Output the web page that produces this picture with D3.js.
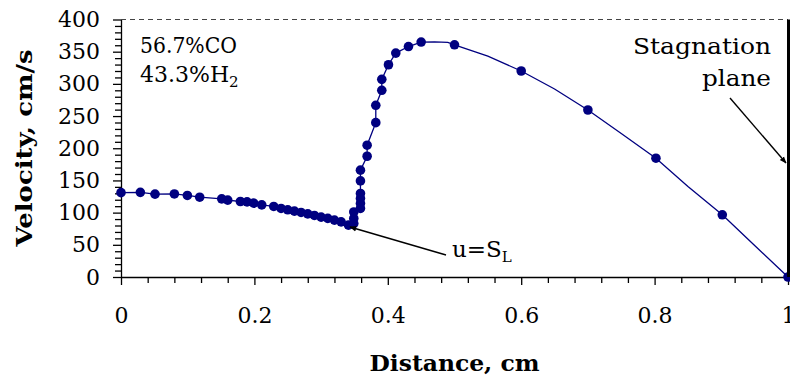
<!DOCTYPE html>
<html>
<head>
<meta charset="utf-8">
<script src="https://cdn.jsdelivr.net/npm/d3@7"></script>
<style>
  html, body { margin: 0; padding: 0; background: #fff; }
  svg { display: block; }
  text { font-family: "DejaVu Serif", "Liberation Serif", serif; fill: #000; }
</style>
</head>
<body>
<svg id="chart" width="790" height="379"></svg>
<script>
// Measured velocity profile (markers)
const distance = [0, 0.029, 0.051, 0.080, 0.0995, 0.118, 0.151, 0.160, 0.179, 0.189, 0.199, 0.211,
  0.229, 0.240, 0.250, 0.260, 0.270, 0.280, 0.290, 0.300, 0.310, 0.320, 0.330, 0.341,
  0.349, 0.349, 0.349, 0.359, 0.359, 0.359, 0.359, 0.359, 0.359, 0.369, 0.369,
  0.382, 0.382, 0.391, 0.391, 0.401, 0.412, 0.431, 0.450, 0.500, 0.600, 0.700, 0.802, 0.9015, 1.0];
const velocity = [131, 131.5, 128.7, 129, 126.7, 124, 121.4, 119.4, 117.3, 116.7, 114.7, 112,
  109.6, 106.5, 104.4, 102.3, 100.3, 98.1, 95.6, 93, 91, 88.4, 85.7, 80.6,
  83, 91, 101, 106.5, 114.3, 122, 129.8, 149.3, 166, 187.6, 204.7,
  239.8, 266.7, 290, 307, 329.7, 347.8, 358, 365, 360.7, 320, 259.4, 184.5, 96.6, 0];

// Additional computed-profile vertices between the sparse markers
const curveDist = [0.470, 0.490, 0.550, 0.650, 0.750, 0.850, 0.950];
const curveVel  = [365.2, 364.5, 343, 292, 223, 140.5, 49];

// Axis ticks
const xMajorTicks = [0, 0.2, 0.4, 0.6, 0.8, 1];
const xTickLabels = ["0", "0.2", "0.4", "0.6", "0.8", "1"];
const yMajorTicks = [0, 50, 100, 150, 200, 250, 300, 350, 400];
const yTickLabels = ["0", "50", "100", "150", "200", "250", "300", "350", "400"];

const svg = d3.select("#chart");
const navy = "#000080";

const x = d3.scaleLinear().domain([0, 1]).range([121, 788]);
const y = d3.scaleLinear().domain([0, 400]).range([277, 19.5]);

// arrowhead marker
svg.append("defs").append("marker")
  .attr("id", "arrow")
  .attr("viewBox", "0 0 10 10")
  .attr("refX", 9).attr("refY", 5)
  .attr("markerWidth", 7).attr("markerHeight", 7)
  .attr("markerUnits", "userSpaceOnUse")
  .attr("orient", "auto")
  .append("path").attr("d", "M0,1 L10,5 L0,9 Z").attr("fill", "#000");

// dashed top gridline at 400
svg.append("line")
  .attr("x1", x(0)).attr("x2", x(1))
  .attr("y1", y(400)).attr("y2", y(400))
  .attr("stroke", "#444").attr("stroke-width", 1)
  .attr("stroke-dasharray", "5,4");

// minor ticks
const xMinor = d3.range(0, 1.0001, 0.04).filter(v => !xMajorTicks.some(t => Math.abs(t - v) < 1e-6));
const yMinor = d3.range(0, 400.001, 10).filter(v => v % 50 !== 0);

const xAxis = svg.append("g").attr("transform", `translate(0,${y(0)})`);
xAxis.append("g").call(d3.axisBottom(x).tickValues(xMinor).tickSize(6).tickFormat(""))
  .call(g => g.select(".domain").remove());
xAxis.append("g").call(d3.axisBottom(x).tickValues(xMajorTicks).tickSize(8).tickSizeOuter(0)
    .tickFormat((d, i) => xTickLabels[i]).tickPadding(22))
  .call(g => g.selectAll("text").attr("font-size", 22).attr("font-family", "DejaVu Serif").attr("fill", "#000"));
xAxis.selectAll("line, path").attr("stroke", "#000").attr("stroke-width", 1.3);

const yAxis = svg.append("g").attr("transform", `translate(${x(0)},0)`);
yAxis.append("g").call(d3.axisLeft(y).tickValues(yMinor).tickSize(6).tickFormat(""))
  .call(g => g.select(".domain").remove());
yAxis.append("g").call(d3.axisLeft(y).tickValues(yMajorTicks).tickSize(8).tickSizeOuter(0)
    .tickFormat((d, i) => yTickLabels[i]).tickPadding(13))
  .call(g => g.selectAll("text").attr("font-size", 22).attr("font-family", "DejaVu Serif").attr("fill", "#000"));
yAxis.selectAll("line, path").attr("stroke", "#000").attr("stroke-width", 1.3);

// profile line through markers and extra vertices
const markers = distance.map((d, i) => ({ d, v: velocity[i] }));
const extra = curveDist.map((d, i) => ({ d, v: curveVel[i] }));
const profile = markers.concat(extra).sort((a, b) => a.d - b.d);

svg.append("path")
  .datum(profile)
  .attr("fill", "none")
  .attr("stroke", navy)
  .attr("stroke-width", 1.3)
  .attr("d", d3.line().x(p => x(p.d)).y(p => y(p.v)));

svg.append("g").selectAll("circle")
  .data(markers)
  .join("circle")
  .attr("cx", p => x(p.d))
  .attr("cy", p => y(p.v))
  .attr("r", 4.8)
  .attr("fill", navy);

// stagnation plane (right boundary)
svg.append("line")
  .attr("x1", x(1) + 0.5).attr("x2", x(1) + 0.5)
  .attr("y1", y(400)).attr("y2", y(0))
  .attr("stroke", "#000").attr("stroke-width", 3);

// annotations
svg.append("line")
  .attr("x1", 446).attr("y1", 255).attr("x2", 350).attr("y2", 227)
  .attr("stroke", "#000").attr("stroke-width", 1.4).attr("marker-end", "url(#arrow)");
const sl = svg.append("text").attr("x", 452).attr("y", 257).attr("font-size", 23);
sl.append("tspan").text("u=S");
sl.append("tspan").attr("dy", 5).attr("font-size", 15).text("L");

svg.append("line")
  .attr("x1", 730).attr("y1", 98).attr("x2", 786).attr("y2", 163)
  .attr("stroke", "#000").attr("stroke-width", 1.4).attr("marker-end", "url(#arrow)");
svg.append("text").attr("x", 771).attr("y", 54).attr("font-size", 23).attr("text-anchor", "end")
  .attr("textLength", 138).attr("lengthAdjust", "spacingAndGlyphs").text("Stagnation");
svg.append("text").attr("x", 771).attr("y", 86).attr("font-size", 23).attr("text-anchor", "end")
  .attr("textLength", 69).attr("lengthAdjust", "spacingAndGlyphs").text("plane");

svg.append("text").attr("x", 140).attr("y", 53).attr("font-size", 22)
  .attr("textLength", 97).attr("lengthAdjust", "spacingAndGlyphs").text("56.7%CO");
const h2 = svg.append("text").attr("x", 140).attr("y", 82).attr("font-size", 22);
h2.append("tspan").text("43.3%H");
h2.append("tspan").attr("dy", 5).attr("font-size", 15).text("2");

// axis titles
svg.append("text")
  .attr("x", (x(0) + x(1)) / 2).attr("y", 371)
  .attr("text-anchor", "middle").attr("font-weight", "bold").attr("font-size", 22)
  .attr("textLength", 170).attr("lengthAdjust", "spacingAndGlyphs")
  .text("Distance, cm");
svg.append("text")
  .attr("transform", "translate(32,148) rotate(-90)")
  .attr("text-anchor", "middle").attr("font-weight", "bold").attr("font-size", 22)
  .attr("textLength", 197).attr("lengthAdjust", "spacingAndGlyphs")
  .text("Velocity, cm/s");
</script>
</body>
</html>
